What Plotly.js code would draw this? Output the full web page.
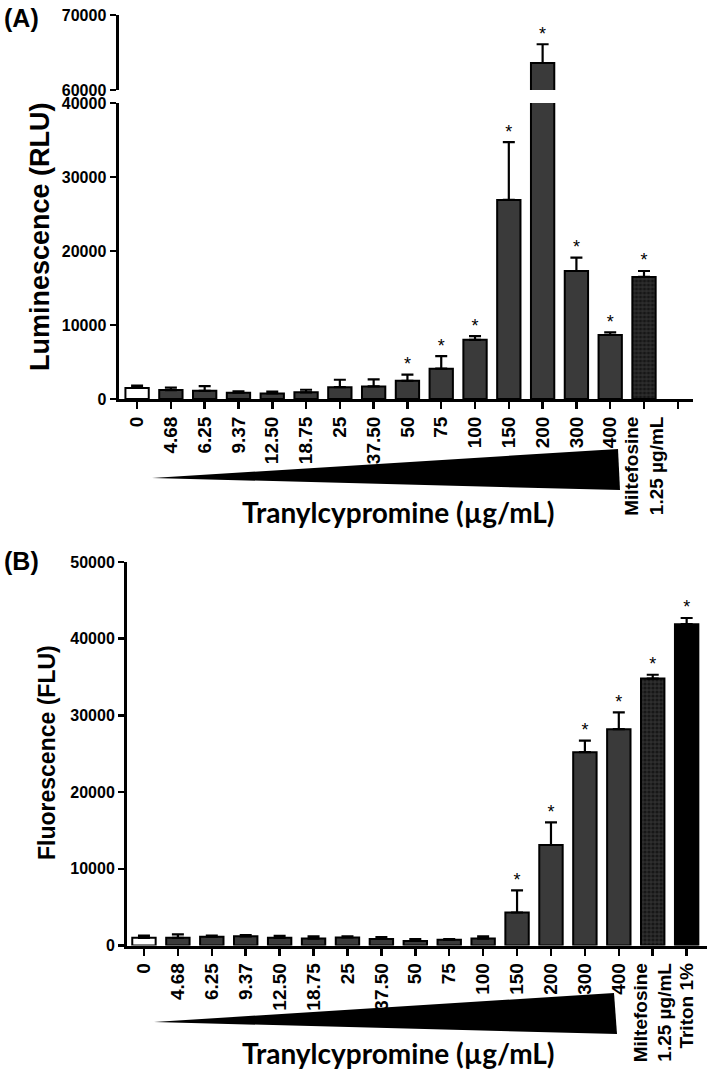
<!DOCTYPE html>
<html>
<head>
<meta charset="utf-8">
<script src="https://cdn.plot.ly/plotly-3.0.1.min.js"></script>
<style>
  html, body { margin: 0; padding: 0; background: #fff; }
  #chart { width: 709px; height: 1072px; }
</style>
</head>
<body>
<div id="chart"></div>
<script>
// Panel A: cell luminescence (RLU) after tranylcypromine exposure
const doseLabels = ['0', '4.68', '6.25', '9.37', '12.50', '18.75', '25', '37.50', '50', '75', '100', '150', '200', '300', '400'];
const miltefosineLabel = 'Miltefosine<br>1.25 µg/mL';
const tritonLabel = 'Triton 1%';

const catsA = doseLabels.concat([miltefosineLabel, '']);
const lumMean = [1500, 1200, 1100, 850, 750, 900, 1600, 1700, 2450, 4100, 8000, 26900, 63600, 17300, 8650, 16500];
const lumErr  = [300, 350, 650, 200, 250, 350, 1000, 950, 850, 1700, 500, 7800, 2500, 1800, 350, 800];
const lumSig  = [0, 0, 0, 0, 0, 0, 0, 0, 1, 1, 1, 1, 1, 1, 1, 1];

// Panel B: fluorescence (FLU)
const catsB = doseLabels.concat([miltefosineLabel, tritonLabel]);
const fluMean = [1000, 1000, 1150, 1200, 1000, 900, 1050, 850, 600, 750, 900, 4300, 13100, 25200, 28200, 34800, 41900];
const fluErr  = [300, 450, 150, 150, 250, 300, 150, 250, 250, 100, 300, 2900, 2950, 1500, 2200, 500, 800];
const fluSig  = [0, 0, 0, 0, 0, 0, 0, 0, 0, 0, 0, 1, 1, 1, 1, 1, 1];

// axis ranges (panel A has a broken y axis: lower and upper segments)
const rangeALow = [0, 40000];
const rangeAHigh = [60000, 70000];
const rangeB = [0, 50000];

const W = 709, H = 1072;
const px = (x) => x / W;
const py = (y) => 1 - y / H;

const DARK = '#3a3a3a';
const groupStyle = {
  control:  { color: '#ffffff' },
  dose:     { color: DARK },
  milte:    { color: '#2e2e2e', pattern: { shape: '.', fillmode: 'overlay', fgcolor: '#000000', size: 4, solidity: 0.5 } },
  triton:   { color: '#000000' }
};

function groupOf(i, nDoses) {
  if (i === 0) return 'control';
  if (i < nDoses) return 'dose';
  if (i === nDoses) return 'milte';
  return 'triton';
}

function barTraces(means, errs, xa, yas) {
  const groups = {};
  means.forEach((v, i) => {
    const g = groupOf(i, doseLabels.length);
    (groups[g] = groups[g] || { x: [], y: [], e: [] });
    groups[g].x.push(i); groups[g].y.push(v); groups[g].e.push(errs[i]);
  });
  const out = [];
  yas.forEach((ya) => {
    Object.keys(groups).forEach((g) => {
      const d = groups[g];
      const st = groupStyle[g];
      const marker = { color: st.color, line: { color: '#000', width: 2 } };
      if (st.pattern) marker.pattern = st.pattern;
      out.push({
        type: 'bar', x: d.x, y: d.y, xaxis: xa, yaxis: ya, width: 0.69,
        marker: marker,
        error_y: { type: 'data', symmetric: false, array: d.e, arrayminus: d.e.map(() => 0),
                   color: '#000', thickness: 2.2, width: 6 },
        hoverinfo: 'skip', showlegend: false
      });
    });
  });
  return out;
}

// significance asterisks above the error bars that fall inside an axis segment
function starTrace(means, errs, sig, xa, ya, range) {
  const xs = [], ys = [];
  sig.forEach((s, i) => {
    const top = means[i] + errs[i];
    if (s && top >= range[0] && top <= range[1]) { xs.push(i); ys.push(top); }
  });
  return {
    type: 'scatter', mode: 'text', x: xs, y: ys, xaxis: xa, yaxis: ya,
    text: xs.map(() => '*'), textposition: 'top center', cliponaxis: false,
    textfont: { family: 'Liberation Sans, Arial, sans-serif', size: 18, color: '#000' },
    hoverinfo: 'skip', showlegend: false
  };
}

const data = []
  .concat(barTraces(lumMean, lumErr, 'x', ['y', 'y2']))
  .concat([starTrace(lumMean, lumErr, lumSig, 'x', 'y', rangeALow),
           starTrace(lumMean, lumErr, lumSig, 'x', 'y2', rangeAHigh)])
  .concat(barTraces(fluMean, fluErr, 'x2', ['y3']))
  .concat([starTrace(fluMean, fluErr, fluSig, 'x2', 'y3', rangeB)]);

const FONT = 'Liberation Sans, Arial, sans-serif';
const tickFontY = { family: FONT, size: 16, color: '#000', weight: 'bold' };
const tickFontX = { family: FONT, size: 19, color: '#000', weight: 'bold' };

const baseAxis = {
  showline: true, linecolor: '#000', linewidth: 3, mirror: false,
  ticks: 'outside', ticklen: 6, tickwidth: 2.5, tickcolor: '#000',
  showgrid: false, zeroline: false, fixedrange: true
};

const layout = {
  width: W, height: H,
  margin: { l: 0, r: 0, t: 0, b: 0 },
  paper_bgcolor: '#fff', plot_bgcolor: 'rgba(0,0,0,0)',
  bargap: 0.3, barmode: 'overlay',
  xaxis: Object.assign({}, baseAxis, {
    domain: [px(118.5), px(693)], range: [-0.55, 16.45], anchor: 'y',
    tickmode: 'array', tickvals: catsA.map((_, i) => i), ticktext: catsA,
    tickangle: -90, tickfont: tickFontX, ticklen: 7
  }),
  yaxis: Object.assign({}, baseAxis, {
    domain: [py(399), py(103)], range: rangeALow, anchor: 'x',
    tick0: 0, dtick: 10000, tickformat: 'd', tickfont: tickFontY
  }),
  yaxis2: Object.assign({}, baseAxis, {
    domain: [py(90), py(15)], range: rangeAHigh, anchor: 'x',
    tick0: 60000, dtick: 10000, tickformat: 'd', tickfont: tickFontY
  }),
  xaxis2: Object.assign({}, baseAxis, {
    domain: [px(127), px(707)], range: [-0.5, 16.6], anchor: 'y3',
    tickmode: 'array', tickvals: catsB.map((_, i) => i), ticktext: catsB,
    tickangle: -90, tickfont: tickFontX, ticklen: 7
  }),
  yaxis3: Object.assign({}, baseAxis, {
    domain: [py(945.5), py(562)], range: rangeB, anchor: 'x2',
    tick0: 0, dtick: 10000, tickformat: 'd', tickfont: tickFontY
  }),
  shapes: [
    // dose gradient wedges
    { type: 'path', xref: 'paper', yref: 'paper', fillcolor: '#000', line: { width: 0 },
      path: `M ${px(152)},${py(478)} L ${px(618)},${py(449)} L ${px(620)},${py(490)} Z` },
    { type: 'path', xref: 'paper', yref: 'paper', fillcolor: '#000', line: { width: 0 },
      path: `M ${px(154)},${py(1022)} L ${px(614)},${py(993)} L ${px(617)},${py(1034)} Z` }
  ],
  annotations: [
    { text: '(A)', xref: 'paper', yref: 'paper', x: px(2), y: py(18), xanchor: 'left', yanchor: 'middle',
      showarrow: false, font: { family: FONT, size: 25, color: '#000', weight: 'bold' } },
    { text: '(B)', xref: 'paper', yref: 'paper', x: px(2), y: py(561), xanchor: 'left', yanchor: 'middle',
      showarrow: false, font: { family: FONT, size: 25, color: '#000', weight: 'bold' } },
    { text: 'Luminescence (RLU)', xref: 'paper', yref: 'paper', x: px(40), y: py(237), textangle: -90,
      xanchor: 'center', yanchor: 'middle', showarrow: false,
      font: { family: FONT, size: 27, color: '#000', weight: 'bold' } },
    { text: 'Fluorescence (FLU)', xref: 'paper', yref: 'paper', x: px(47), y: py(752), textangle: -90,
      xanchor: 'center', yanchor: 'middle', showarrow: false,
      font: { family: FONT, size: 23, color: '#000', weight: 'bold' } },
    { text: 'Tranylcypromine (µg/mL)', xref: 'paper', yref: 'paper', x: px(398), y: py(512),
      xanchor: 'center', yanchor: 'middle', showarrow: false,
      font: { family: 'Lato, sans-serif', size: 28, color: '#000', weight: 'bold' } },
    { text: 'Tranylcypromine (µg/mL)', xref: 'paper', yref: 'paper', x: px(398), y: py(1053),
      xanchor: 'center', yanchor: 'middle', showarrow: false,
      font: { family: 'Lato, sans-serif', size: 28, color: '#000', weight: 'bold' } }
  ]
};

Plotly.newPlot('chart', data, layout, { displayModeBar: false, staticPlot: true });
</script>
</body>
</html>
